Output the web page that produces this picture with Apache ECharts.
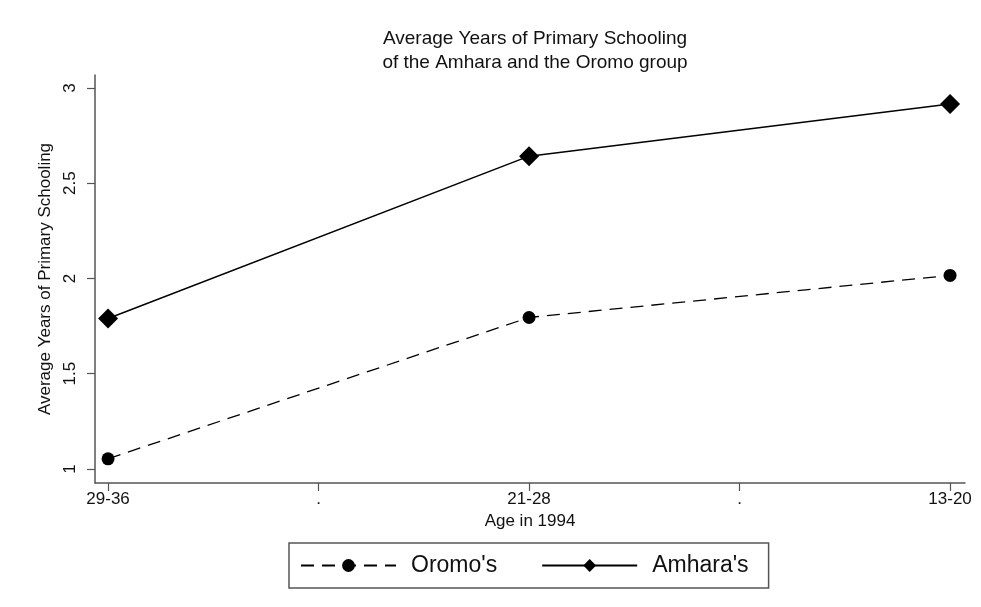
<!DOCTYPE html>
<html>
<head>
<meta charset="utf-8">
<script src="https://cdn.jsdelivr.net/npm/echarts@6/dist/echarts.min.js"></script>
<style>html,body{margin:0;padding:0;background:#fff}#c{width:981px;height:607px}</style>
</head>
<body>
<div id="c"></div>
<script>
var categories = ['29-36', '.', '21-28', '.', '13-20'];
var categoryPositions = [0, 1, 2, 3, 4];
var oromo = [[0, 1.053], [2, 1.795], [4, 2.016]];
var amhara = [[0, 1.79], [2, 2.642], [4, 2.916]];
var yTicks = [1, 1.5, 2, 2.5, 3];

var font = 'Liberation Sans, Arial, Helvetica, sans-serif';
var chart = echarts.init(document.getElementById('c'));
chart.setOption({
  backgroundColor: '#fff',
  animation: false,
  title: {
    text: 'Average Years of Primary Schooling\nof the Amhara and the Oromo group',
    left: 530, top: 22, textAlign: 'center',
    textStyle: { fontFamily: font, fontSize: 19, fontWeight: 'normal', color: '#111', lineHeight: 24 }
  },
  grid: { left: 95, right: 16, top: 75, bottom: 124 },
  xAxis: {
    type: 'value', min: -0.062, max: 4.071,
    name: 'Age in 1994', nameLocation: 'middle', nameGap: 30,
    nameTextStyle: { fontFamily: font, fontSize: 17, color: '#111' },
    splitLine: { show: false },
    axisLine: { onZero: false, lineStyle: { color: '#555', width: 1.5 } },
    axisTick: { customValues: categoryPositions, length: 8, lineStyle: { color: '#555', width: 1.2 } },
    axisLabel: {
      customValues: categoryPositions, margin: 8,
      fontFamily: font, fontSize: 17, color: '#111',
      formatter: function (v) { return categories[Math.round(v)]; }
    }
  },
  yAxis: {
    type: 'value', min: 0.926, max: 3.068,
    name: 'Average Years of Primary Schooling', nameLocation: 'middle', nameGap: 41,
    nameTextStyle: { fontFamily: font, fontSize: 17, color: '#111' },
    splitLine: { show: false },
    axisLine: { show: true, onZero: false, lineStyle: { color: '#555', width: 1.5 } },
    axisTick: { show: true, customValues: yTicks, length: 8, lineStyle: { color: '#555', width: 1.2 } },
    axisLabel: {
      customValues: yTicks, rotate: 90, margin: 16,
      fontFamily: font, fontSize: 17, color: '#111'
    }
  },
  legend: {
    left: 289, top: 543, orient: 'horizontal',
    padding: [11, 20, 11, 11], itemGap: 44,
    itemWidth: 95, itemHeight: 16,
    borderColor: '#555', borderWidth: 1.5, borderRadius: 0,
    textStyle: { fontFamily: font, fontSize: 23, color: '#111', padding: [0, 0, 0, 10] },
    data: ["Oromo's", "Amhara's"]
  },
  series: [
    {
      name: "Oromo's", type: 'line', data: oromo,
      symbol: 'circle', symbolSize: 13,
      lineStyle: { color: '#000', width: 1.3, type: [13, 8] },
      itemStyle: { color: '#000' }
    },
    {
      name: "Amhara's", type: 'line', data: amhara,
      symbol: 'diamond', symbolSize: [20, 20],
      lineStyle: { color: '#000', width: 1.5, type: 'solid' },
      itemStyle: { color: '#000' }
    }
  ]
});
</script>
</body>
</html>
